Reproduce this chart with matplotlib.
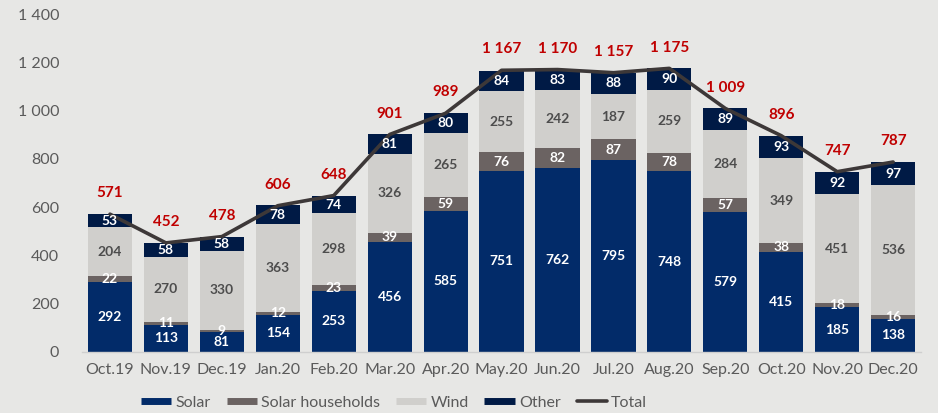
import matplotlib
matplotlib.use("Agg")
import matplotlib.pyplot as plt
from matplotlib.lines import Line2D
import numpy as np

months = ["Oct.19", "Nov.19", "Dec.19", "Jan.20", "Feb.20", "Mar.20", "Apr.20", "May.20",
          "Jun.20", "Jul.20", "Aug.20", "Sep.20", "Oct.20", "Nov.20", "Dec.20"]
solar = [292, 113, 81, 154, 253, 456, 585, 751, 762, 795, 748, 579, 415, 185, 138]
solar_households = [22, 11, 9, 12, 23, 39, 59, 76, 82, 87, 78, 57, 38, 18, 16]
wind = [204, 270, 330, 363, 298, 326, 265, 255, 242, 187, 259, 284, 349, 451, 536]
other = [53, 58, 58, 78, 74, 81, 80, 84, 83, 88, 90, 89, 93, 92, 97]
total = [571, 452, 478, 606, 648, 901, 989, 1167, 1170, 1157, 1175, 1009, 896, 747, 787]
yticks = [0, 200, 400, 600, 800, 1000, 1200, 1400]

BG = "#e7e7e5"
C_SOLAR = "#022b69"
C_SH = "#6b6362"
C_WIND = "#d0cfcc"
C_OTHER = "#001a45"
C_TOTAL = "#3d3838"
C_RED = "#c00000"
C_TICK = "#5a5a5a"

plt.rcParams["font.family"] = ["Lato", "DejaVu Sans"]

fig = plt.figure(figsize=(9.38, 4.13), dpi=100, facecolor=BG)
ax = fig.add_axes([0.0874, 0.1477, 0.8946, 0.8183], facecolor=BG)

x = np.arange(len(months))
w = 0.79

series = [(solar, C_SOLAR, "white"),
          (solar_households, C_SH, "white"),
          (wind, C_WIND, "#4d4d4d"),
          (other, C_OTHER, "white")]
bottom = np.zeros(len(months))
for vals, col, tcol in series:
    vals = np.array(vals, dtype=float)
    ax.bar(x, vals, w, bottom=bottom, color=col, edgecolor="none", zorder=2)
    for xi, b, v in zip(x, bottom, vals):
        ax.text(xi, b + v / 2, f"{int(v)}", ha="center", va="center",
                color=tcol, fontsize=10, fontweight="bold", zorder=4)
    bottom += vals

ax.plot(x, total, color=C_TOTAL, lw=2.6, zorder=3, solid_capstyle="round")


def fmt(v):
    return f"{v:,}".replace(",", " ")


for xi, t in zip(x, total):
    ax.annotate(fmt(t), (xi, t), xytext=(0, 15), textcoords="offset points",
                ha="center", va="center", color=C_RED, fontsize=11,
                fontweight="bold", zorder=5)

ax.set_xlim(-0.5, len(months) - 0.5)
ax.set_ylim(0, 1400)
ax.set_yticks(yticks)
ax.set_yticklabels([fmt(v) for v in yticks])
ax.set_xticks(x)
ax.set_xticklabels(months)
ax.tick_params(axis="both", length=0, labelsize=11.5, colors=C_TICK)
ax.tick_params(axis="y", pad=16.5)
ax.tick_params(axis="x", pad=8)
for s in ["top", "right", "left"]:
    ax.spines[s].set_visible(False)
ax.spines["bottom"].set_color("#cfcfcf")
ax.spines["bottom"].set_linewidth(1)

handles = [Line2D([], [], color=C_SOLAR, lw=5, solid_capstyle="butt"),
           Line2D([], [], color=C_SH, lw=5, solid_capstyle="butt"),
           Line2D([], [], color=C_WIND, lw=5, solid_capstyle="butt"),
           Line2D([], [], color=C_OTHER, lw=5, solid_capstyle="butt"),
           Line2D([], [], color=C_TOTAL, lw=2.6, solid_capstyle="round")]
labels = ["Solar", "Solar households", "Wind", "Other", "Total"]
leg = fig.legend(handles, labels, loc="center", bbox_to_anchor=(0.42, 0.025),
                 ncol=5, frameon=False, fontsize=11.5, handlelength=1.9,
                 handletextpad=0.25, columnspacing=1.0)
for t in leg.get_texts():
    t.set_color(C_TICK)

fig.savefig("out.png", dpi=100, facecolor=BG)
